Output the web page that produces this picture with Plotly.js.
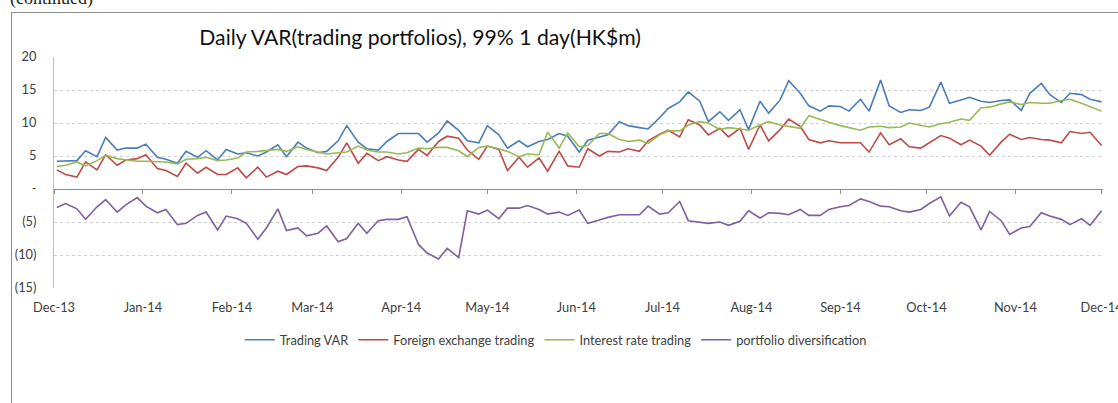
<!DOCTYPE html>
<html><head><meta charset="utf-8">
<script src="https://cdn.plot.ly/plotly-3.0.1.min.js"></script>
<style>
html,body{margin:0;padding:0;background:#fff;overflow:hidden;}
#wrap{position:relative;width:1118px;height:403px;overflow:hidden;}
#chart{position:absolute;left:0;top:0;width:1118px;height:403px;}
#frame{position:absolute;left:11px;top:12px;width:1200px;height:500px;border-left:1px solid #8c8c8c;border-top:1px solid #8c8c8c;pointer-events:none;}
#cont{position:absolute;left:10px;top:-12px;font-family:"Liberation Serif",serif;font-size:18px;line-height:20px;color:#222;white-space:nowrap;}
</style></head>
<body><div id="wrap"><div id="chart"></div><div id="frame"></div><div id="cont">(continued)</div></div>
<script>
const chartTitle = 'Daily VAR(trading portfolios), 99% 1 day(HK$m)';
const seriesNames = ['Trading VAR', 'Foreign exchange trading', 'Interest rate trading', 'portfolio diversification'];
const seriesColors = ['#4A7EBB', '#BE4B48', '#98B954', '#7D60A0'];
const yTickVals = [20, 15, 10, 5, 0, -5, -10, -15];
const yTickText = ['20', '15', '10', '5', '-', '(5)', '(10)', '(15)'];

const dates = [
'2013-12-02','2013-12-05','2013-12-09','2013-12-12','2013-12-16','2013-12-19','2013-12-23','2013-12-26','2013-12-30','2014-01-02',
'2014-01-06','2014-01-09','2014-01-13','2014-01-16','2014-01-20','2014-01-23','2014-01-27','2014-01-30',
'2014-02-03','2014-02-06','2014-02-10','2014-02-13','2014-02-17','2014-02-20','2014-02-24','2014-02-27',
'2014-03-03','2014-03-06','2014-03-10','2014-03-13','2014-03-17','2014-03-20','2014-03-24','2014-03-27',
'2014-03-31','2014-04-03','2014-04-07','2014-04-10','2014-04-14','2014-04-17','2014-04-21','2014-04-24',
'2014-04-28','2014-05-01','2014-05-05','2014-05-08','2014-05-12','2014-05-15','2014-05-19','2014-05-22',
'2014-05-26','2014-05-29','2014-06-02','2014-06-05','2014-06-09','2014-06-12','2014-06-16','2014-06-19',
'2014-06-23','2014-06-26','2014-06-30','2014-07-03','2014-07-07','2014-07-10','2014-07-14','2014-07-17',
'2014-07-21','2014-07-24','2014-07-28','2014-07-31','2014-08-04','2014-08-07','2014-08-11','2014-08-14',
'2014-08-18','2014-08-21','2014-08-25','2014-08-28','2014-09-01','2014-09-04','2014-09-08','2014-09-11',
'2014-09-15','2014-09-18','2014-09-22','2014-09-25','2014-09-29','2014-10-02','2014-10-06','2014-10-09',
'2014-10-13','2014-10-16','2014-10-20','2014-10-23','2014-10-27','2014-10-30','2014-11-03','2014-11-06',
'2014-11-10','2014-11-13','2014-11-17','2014-11-20','2014-11-24','2014-11-27','2014-12-01'
];

const tradingVar = [
4.2,4.2,4.3,5.8,4.9,7.8,5.9,6.2,6.2,6.8,
4.8,4.5,3.9,5.7,4.8,5.8,4.4,6.0,
5.3,5.5,5.0,5.6,6.7,4.9,7.1,6.2,
5.5,5.7,7.3,9.6,7.1,6.1,5.9,7.2,
8.4,8.4,8.4,7.1,8.5,10.3,8.9,7.3,
7.0,9.6,8.2,6.2,7.3,6.4,7.2,7.5,
8.4,8.0,5.6,7.4,7.8,8.2,10.2,9.6,
9.3,9.1,10.8,12.2,13.2,14.7,13.3,10.2,
11.7,10.4,12.0,9.0,13.3,11.5,13.5,16.4,
14.5,12.6,11.8,12.6,12.5,11.8,13.6,11.8,
16.5,12.6,11.6,12.0,11.9,12.4,16.2,13.0,
13.5,13.9,13.3,13.1,13.4,13.5,11.9,14.5,
16.0,14.3,13.1,14.5,14.3,13.6,13.2
];

const fxTrading = [
2.9,2.2,1.8,4.1,2.9,5.2,3.6,4.4,4.6,5.2,
3.1,2.8,1.9,3.9,2.4,3.3,2.2,2.2,
3.2,1.7,3.3,1.8,2.7,2.2,3.4,3.5,
3.2,2.8,4.8,7.0,3.9,5.4,4.3,4.9,
4.4,4.2,6.0,5.1,7.2,8.0,7.7,5.9,
4.5,6.5,6.0,2.8,4.8,3.3,4.7,2.7,
5.7,3.5,3.3,6.1,5.0,5.7,5.6,6.1,
5.7,7.3,8.3,8.9,7.9,10.5,9.7,8.2,
9.2,7.9,9.2,6.0,9.7,7.3,9.0,10.6,
9.5,7.5,7.0,7.3,7.0,7.0,7.0,5.6,
8.5,6.7,7.6,6.4,6.2,7.0,8.1,7.7,
6.7,7.4,6.5,5.1,7.1,8.3,7.5,7.8,
7.5,7.4,7.0,8.7,8.4,8.6,6.6
];

const irTrading = [
3.4,3.6,4.1,3.5,4.3,5.1,4.6,4.4,4.2,4.2,
4.2,4.1,3.8,4.5,4.6,4.8,4.3,4.4,
4.7,5.6,5.7,5.8,6.0,5.7,6.4,6.0,
5.6,5.3,5.5,5.6,6.5,5.9,5.6,5.6,
5.3,5.5,6.2,6.1,6.3,6.3,5.8,4.9,
6.3,6.5,6.1,5.7,4.9,5.3,5.2,8.6,
6.2,8.5,6.4,6.6,8.4,8.4,7.5,7.2,
7.4,6.9,8.2,8.8,8.8,9.7,10.2,10.0,
9.0,9.3,9.1,8.9,9.7,10.2,9.7,9.5,
9.2,11.1,10.5,10.1,9.6,9.3,8.9,9.4,
9.5,9.3,9.4,10.0,9.7,9.4,9.9,10.1,
10.6,10.4,12.3,12.4,12.9,13.2,12.8,13.1,
13.0,13.0,13.4,13.6,13.0,12.5,11.8
];

const diversification = [
-2.8,-2.2,-3.0,-4.6,-2.7,-1.6,-3.5,-2.4,-1.3,-2.6,
-3.6,-3.1,-5.4,-5.2,-4.0,-3.5,-6.2,-4.1,
-4.5,-5.2,-7.6,-5.9,-3.0,-6.3,-5.9,-7.1,
-6.7,-5.6,-8.0,-7.5,-5.2,-6.7,-4.8,-4.6,
-4.6,-4.2,-8.4,-9.7,-10.6,-9.0,-10.4,-3.3,
-3.8,-3.2,-4.5,-2.9,-2.9,-2.5,-3.1,-3.8,
-3.5,-4.0,-3.2,-5.2,-4.7,-4.3,-3.9,-3.9,
-3.9,-2.6,-3.8,-3.6,-1.9,-4.8,-5.0,-5.2,
-5.0,-5.5,-4.9,-3.3,-4.4,-3.6,-3.7,-3.9,
-3.1,-4.0,-4.0,-3.1,-2.7,-2.5,-1.5,-1.9,
-2.6,-2.7,-3.3,-3.5,-3.1,-2.2,-1.2,-4.1,
-2.0,-2.7,-6.2,-3.4,-4.8,-6.9,-5.9,-5.7,
-3.6,-4.1,-4.6,-5.4,-4.5,-5.5,-3.3
];

const seriesValues = [tradingVar, fxTrading, irTrading, diversification];
const traces = seriesValues.map((vals, i) => ({
  type: 'scatter', mode: 'lines', x: dates, y: vals,
  name: seriesNames[i],
  xaxis: i === 3 ? 'x2' : 'x',
  line: {color: seriesColors[i], width: 1.6},
  hoverinfo: 'skip'
}));

const xRange = ['2013-12-01', '2014-12-01 12:00'];
const zeroPos = 15 / 35;
const layout = {
  width: 1118, height: 403,
  margin: {l: 54, r: 15, t: 57, b: 115, pad: 0},
  paper_bgcolor: '#ffffff', plot_bgcolor: '#ffffff',
  font: {family: 'Lato, sans-serif', size: 12, color: '#404040'},
  showlegend: true,
  title: {text: chartTitle, font: {family: 'Lato, sans-serif', size: 21.2, color: '#111111'},
          xref: 'paper', x: 0.349, xanchor: 'center', yref: 'container', y: 0.906, yanchor: 'middle'},
  xaxis: {type: 'date', range: xRange, tick0: '2013-12-01', dtick: 'M1', tickformat: '%b-%y',
          showgrid: false, zeroline: false, showline: false, ticks: '', ticklabelstandoff: 10,
          ticklabeloverflow: 'allow', automargin: false, tickfont: {size: 12.8, color: '#404040'}},
  xaxis2: {type: 'date', overlaying: 'x', matches: 'x', anchor: 'free', position: zeroPos, side: 'bottom',
           showline: true, linecolor: '#8c8c8c', linewidth: 1, ticks: 'outside', ticklen: 4, tickcolor: '#8c8c8c',
           tickwidth: 1, tick0: '2013-12-01', dtick: 'M1', showticklabels: false, showgrid: false, zeroline: false},
  yaxis: {range: [-15, 20], tickvals: yTickVals, ticktext: yTickText, showgrid: true, gridcolor: '#d0d0d0',
          griddash: 'dot', gridwidth: 1, zeroline: true, zerolinecolor: '#8c8c8c', zerolinewidth: 1,
          showline: true, linecolor: '#c0c0c0', linewidth: 1,
          ticks: '', ticklabelstandoff: 14, tickfont: {size: 12.8, color: '#404040'}},
  legend: {orientation: 'h', x: 0.177, xanchor: 'left', y: -0.225, yanchor: 'middle',
           font: {size: 12.8, color: '#404040'}, itemgap: 4, bgcolor: 'rgba(0,0,0,0)'}
};

Plotly.newPlot('chart', traces, layout, {staticPlot: true, displayModeBar: false});
</script></body></html>
